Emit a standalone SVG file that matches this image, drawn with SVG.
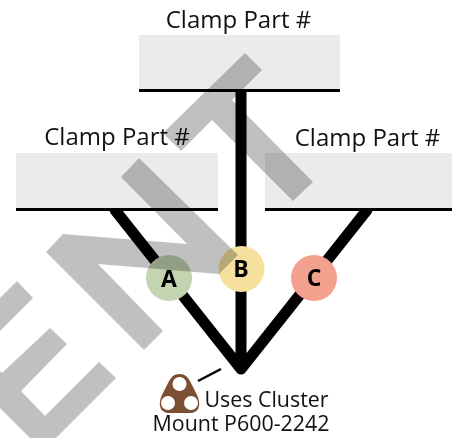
<svg xmlns="http://www.w3.org/2000/svg" width="452" height="438" viewBox="0 0 452 438">
<style>
text{font-family:"Open Sans","Noto Sans","DejaVu Sans",sans-serif;fill:#111}
.lbl{font-size:24px;text-anchor:middle}
.sub{font-size:21.4px;text-anchor:middle}
.ltr{font-size:23px;font-weight:700;text-anchor:middle;fill:#000}
.box{fill:#ebebeb}
.bar{stroke:#000;stroke-width:3}
.wire{stroke:#000;stroke-width:11;stroke-linecap:round;stroke-linejoin:round;fill:none}
#watermark{fill:#c0c0c0;mix-blend-mode:multiply}
</style>
<rect width="452" height="438" fill="#fff"/>
<g id="connectors">
<path class="wire" d="M241 91V369M115 210L241 369M367 210L241 369"/>
<path d="M198 381L221 369" stroke="#000" stroke-width="2.5" fill="none"/>
</g>
<g id="clamp-top"><rect class="box" x="139" y="35" width="201" height="55"/><path class="bar" d="M139 90.5H340"/><text class="lbl" x="238.500" y="28">Clamp Part #</text></g>
<g id="clamp-left"><rect class="box" x="16" y="153" width="202" height="56"/><path class="bar" d="M16 209.500H218"/><text class="lbl" x="117" y="145">Clamp Part #</text></g>
<g id="clamp-right"><rect class="box" x="265" y="153" width="187" height="56"/><path class="bar" d="M265 209.500H452"/><text class="lbl" x="367.500" y="146">Clamp Part #</text></g>
<g id="node-a"><circle cx="169" cy="278" r="23" fill="#c2d4b0"/><text class="ltr" x="169" y="287">A</text></g>
<g id="node-b"><circle cx="241.500" cy="269" r="23" fill="#f5e09d"/><text class="ltr" x="241" y="277">B</text></g>
<g id="node-c"><circle cx="314" cy="278" r="23" fill="#f4a08e"/><text class="ltr" x="314" y="286">C</text></g>
<g id="cluster-mount">
<path d="M179.500 374C185 374 188 377 191 383L197 395C201 403 200 413 190 413H169C159 413 158 403 162 395L168 383C171 377 174 374 179.500 374Z" fill="#7d4f32"/>
<circle cx="179.500" cy="384" r="7" fill="#fff"/><circle cx="168" cy="403" r="7" fill="#fff"/><circle cx="191" cy="403" r="7" fill="#fff"/>
<text class="sub" x="266.500" y="407">Uses Cluster</text><text class="sub" x="241" y="431">Mount P600-2242</text>
</g>
<g id="watermark">
<polygon points="17,281 33,298 -20,351 2,373 50,328 67,344 21,391 45,416 99,362 116,378 43,451 -55,353"/>
<polygon points="63,234 46,252 144,350 163,331 98,264 219,274 238,255 139,158 121,177 187,244"/>
<polygon points="245,53 262,70 232,100 313,182 293,201 212,120 181,151 163,133"/>
</g>
</svg>
